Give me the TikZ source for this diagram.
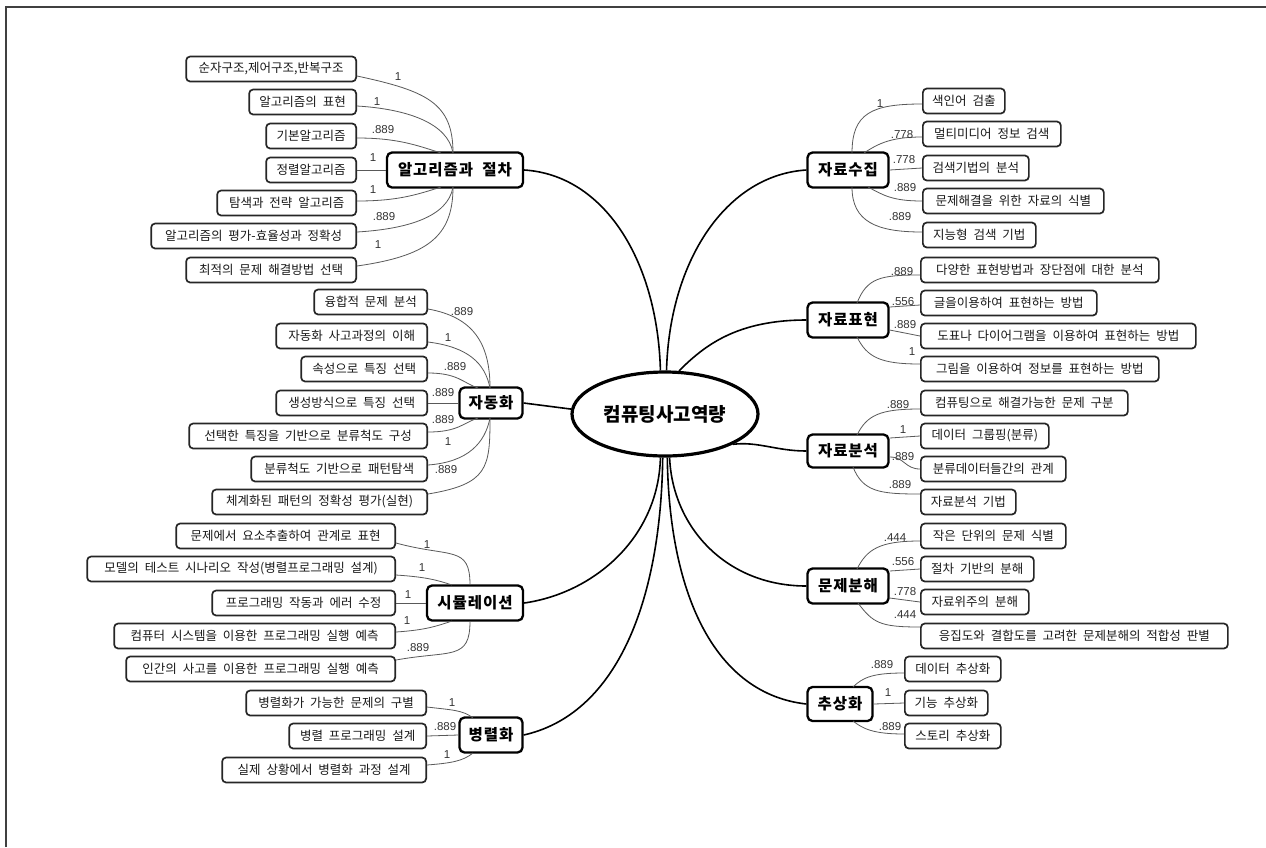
\documentclass[tikz,border=0pt]{standalone}
\usepackage{fontspec}
\setmainfont{Noto Sans CJK KR}[WordSpace=2.1]
\newfontfamily\numfont{Liberation Sans}
\usetikzlibrary{shapes.geometric,calc}
\newcommand{\leaffont}{\fontsize{12.5}{14}\selectfont}
\newcommand{\midfont}{\fontsize{15.5}{17}\selectfont\bfseries\addfontfeatures{LetterSpace=6}}
\newcommand{\cenfont}{\fontsize{19}{21}\selectfont\bfseries}
\newcommand{\lblfont}{\numfont\fontsize{11.5}{13}\selectfont}
\tikzset{
  leaf/.style={draw=black!85, line width=1.7pt, rounded corners=4pt, fill=white,
    minimum height=25pt, inner sep=0pt, font=\leaffont, text=black!90},
  lleaf/.style={leaf, anchor=east},
  rleaf/.style={leaf, anchor=west},
  mid/.style={draw=black, line width=2.3pt, rounded corners=5pt, fill=white,
    minimum height=35pt, inner sep=0pt, font=\midfont},
  lbl/.style={font=\lblfont, text=black!80, inner sep=0pt},
  twig/.style={draw=black!65, line width=0.8pt},
  trunk/.style={draw=black, line width=1.6pt},
}
\begin{document}
\begin{tikzpicture}[x=1pt,y=-1pt]
\useasboundingbox (0,0) rectangle (1266,847);
\fill[white] (0,0) rectangle (1266,847);
\draw[line width=1.3pt, black!75] (6,847) -- (6,7) -- (1266,7);

% centre
\node[ellipse, draw, line width=3.2pt, fill=white, minimum width=186pt, minimum height=84pt, inner sep=0pt, font=\cenfont] (C) at (665,414) {컴퓨팅사고역량};

% mid nodes
\node[mid, minimum width=136pt] (A) at (455,170) {알고리즘과 절차};
\node[mid, minimum width=63pt, minimum height=31pt] (H) at (491,403) {자동화};
\node[mid, minimum width=96pt] (S) at (475,603) {시뮬레이션};
\node[mid, minimum width=63pt] (P) at (491,735) {병렬화};
\node[mid, minimum width=81pt] (R1) at (848,170) {자료수집};
\node[mid, minimum width=81pt] (R2) at (848,320) {자료표현};
\node[mid, minimum width=81pt, minimum height=33pt] (R3) at (848,451) {자료분석};
\node[mid, minimum width=81pt] (R4) at (848,586) {문제분해};
\node[mid, minimum width=65pt, minimum height=34pt] (R5) at (840,704) {추상화};

% leaves A
\node[lleaf, minimum width=170pt] (A1) at (357,69) {순자구조,제어구조,반복구조};
\node[lleaf, minimum width=107pt] (A2) at (357,102) {알고리즘의 표현};
\node[lleaf, minimum width=90pt] (A3) at (357,136) {기본알고리즘};
\node[lleaf, minimum width=90pt] (A4) at (357,170) {정렬알고리즘};
\node[lleaf, minimum width=139pt] (A5) at (357,203) {탐색과 전략 알고리즘};
\node[lleaf, minimum width=205pt] (A6) at (357,236) {알고리즘의 평가-효율성과 정확성};
\node[lleaf, minimum width=170pt] (A7) at (357,270) {최적의 문제 해결방법 선택};

% leaves H
\node[lleaf, minimum width=113pt] (H1) at (428,302) {융합적 문제 분석};
\node[lleaf, minimum width=151pt] (H2) at (428,336) {자동화 사고과정의 이해};
\node[lleaf, minimum width=126pt] (H3) at (428,369) {속성으로 특징 선택};
\node[lleaf, minimum width=151pt] (H4) at (428,403) {생성방식으로 특징 선택};
\node[lleaf, minimum width=238pt] (H5) at (428,436) {선택한 특징을 기반으로 분류척도 구성};
\node[lleaf, minimum width=176pt] (H6) at (428,469) {분류척도 기반으로 패턴탐색};
\node[lleaf, minimum width=215pt] (H7) at (428,502) {체계화된 패턴의 정확성 평가(실현)};

% leaves S
\node[lleaf, minimum width=219pt] (S1) at (396,536) {문제에서 요소추출하여 관계로 표현};
\node[lleaf, minimum width=308pt] (S2) at (396,569) {모델의 테스트 시나리오 작성(병렬프로그래밍 설계)};
\node[lleaf, minimum width=183pt] (S3) at (396,603) {프로그래밍 작동과 에러 수정};
\node[lleaf, minimum width=281pt] (S4) at (396,636) {컴퓨터 시스템을 이용한 프로그래밍 실행 예측};
\node[lleaf, minimum width=269pt] (S5) at (396,669) {인간의 사고를 이용한 프로그래밍 실행 예측};

% leaves P
\node[lleaf, minimum width=180pt] (P1) at (427,703) {병렬화가 가능한 문제의 구별};
\node[lleaf, minimum width=137pt] (P2) at (427,736) {병렬 프로그래밍 설계};
\node[lleaf, minimum width=204pt] (P3) at (427,770) {실제 상황에서 병렬화 과정 설계};

% leaves R1
\node[rleaf, minimum width=82pt] (R1a) at (922,101) {색인어 검출};
\node[rleaf, minimum width=138pt] (R1b) at (922,134) {멀티미디어 정보 검색};
\node[rleaf, minimum width=106pt] (R1c) at (922,168) {검색기법의 분석};
\node[rleaf, minimum width=181pt] (R1d) at (922,201) {문제해결을 위한 자료의 식별};
\node[rleaf, minimum width=113pt] (R1e) at (922,235) {지능형 검색 기법};

% leaves R2
\node[rleaf, minimum width=238pt] (R2a) at (920,270) {다양한 표현방법과 장단점에 대한 분석};
\node[rleaf, minimum width=176pt] (R2b) at (920,303) {글을이용하여 표현하는 방법};
\node[rleaf, minimum width=275pt] (R2c) at (920,336) {도표나 다이어그램을 이용하여 표현하는 방법};
\node[rleaf, minimum width=238pt] (R2d) at (920,369) {그림을 이용하여 정보를 표현하는 방법};

% leaves R3
\node[rleaf, minimum width=207pt] (R3a) at (920,403) {컴퓨팅으로 해결가능한 문제 구분};
\node[rleaf, minimum width=128pt] (R3b) at (920,436) {데이터 그룹핑(분류)};
\node[rleaf, minimum width=145pt] (R3c) at (920,469) {분류데이터들간의 관계};
\node[rleaf, minimum width=95pt] (R3d) at (920,502) {자료분석 기법};

% leaves R4
\node[rleaf, minimum width=145pt] (R4a) at (920,536) {작은 단위의 문제 식별};
\node[rleaf, minimum width=113pt] (R4b) at (920,569) {절차 기반의 분해};
\node[rleaf, minimum width=108pt] (R4c) at (920,602) {자료위주의 분해};
\node[rleaf, minimum width=307pt] (R4d) at (920,636) {응집도와 결합도를 고려한 문제분해의 적합성 판별};

% leaves R5
\node[rleaf, minimum width=96pt] (R5a) at (904,669) {데이터 추상화};
\node[rleaf, minimum width=83pt] (R5b) at (904,703) {기능 추상화};
\node[rleaf, minimum width=96pt] (R5c) at (904,736) {스토리 추상화};

% convergence points
\coordinate (AT) at (453,153); \coordinate (AB) at (453,187);
\coordinate (AT2) at (441,153); \coordinate (AB2) at (441,187);
\coordinate (HT) at (490,388); \coordinate (HB) at (490,418);
\coordinate (HT2) at (478,388); \coordinate (HB2) at (478,418);
\coordinate (ST) at (470,585); \coordinate (SB) at (470,621);
\coordinate (ST2) at (452,585); \coordinate (SB2) at (452,621);
\coordinate (PT) at (473,718); \coordinate (PB) at (473,753);
\coordinate (R1T) at (852,153); \coordinate (R1B) at (852,187);
\coordinate (R1T2) at (864,153); \coordinate (R1B2) at (868,187);
\coordinate (R2T) at (857,303); \coordinate (R2B) at (857,337);
\coordinate (R3T) at (857,435); \coordinate (R3B) at (853,467);
\coordinate (R4T) at (857,569); \coordinate (R4B) at (858,603);
\coordinate (R5T) at (853,687); \coordinate (R5B) at (853,721);

% twigs A
\draw[twig] ([yshift=-7pt]A1.east) .. controls +(70,15) and +(0,-50) .. (AT);
\draw[twig] ([yshift=-4pt]A2.east) .. controls +(50,3) and +(-5,-30) .. (AT);
\draw[twig] ([yshift=-2pt]A3.east) .. controls +(40,0) and +(-25,-8) .. (AT2);
\draw[twig] (A4.east) -- (A.west);
\draw[twig] ([yshift=2pt]A5.east) .. controls +(40,0) and +(-25,8) .. (AB2);
\draw[twig] ([yshift=4pt]A6.east) .. controls +(50,-3) and +(-5,30) .. (AB);
\draw[twig] ([yshift=4pt]A7.east) .. controls +(70,-10) and +(0,50) .. (AB);
% twigs H
\draw[twig] ([yshift=-7pt]H1.east) .. controls +(45,8) and +(0,-45) .. (HT);
\draw[twig] ([yshift=-6pt]H2.east) .. controls +(40,5) and +(-5,-25) .. (HT);
\draw[twig] ([yshift=-4pt]H3.east) .. controls +(30,0) and +(-15,-5) .. (HT2);
\draw[twig] (H4.east) -- (H.west);
\draw[twig] ([yshift=4pt]H5.east) .. controls +(30,0) and +(-15,5) .. (HB2);
\draw[twig] ([yshift=4pt]H6.east) .. controls +(40,-3) and +(-5,25) .. (HB);
\draw[twig] ([yshift=8pt]H7.east) .. controls +(60,-10) and +(0,50) .. (HB);
% twigs S
\draw[twig] ([yshift=-7pt]S1.east) .. controls +(55,15) and +(0,-40) .. (ST);
\draw[twig] ([yshift=-6pt]S2.east) .. controls +(30,2) and +(-15,-5) .. (ST2);
\draw[twig] (S3.east) -- (S.west);
\draw[twig] ([yshift=4pt]S4.east) .. controls +(30,-2) and +(-15,5) .. (SB2);
\draw[twig] ([yshift=9pt]S5.east) .. controls +(55,-10) and +(0,40) .. (SB);
% twigs P
\draw[twig] ([yshift=-4pt]P1.east) .. controls +(25,3) and +(-10,-8) .. (PT);
\draw[twig] (P2.east) -- (P.west);
\draw[twig] ([yshift=5pt]P3.east) .. controls +(25,-2) and +(-10,8) .. (PB);
% twigs R1
\draw[twig] (R1T) .. controls +(0,-40) and +(-50,0) .. ([yshift=-3pt]R1a.west);
\draw[twig] (R1T2) .. controls +(15,-10) and +(-30,0) .. ([yshift=-3pt]R1b.west);
\draw[twig] (R1.east) -- (R1c.west);
\draw[twig] (R1B2) .. controls +(15,8) and +(-30,0) .. (R1d.west);
\draw[twig] (R1B) .. controls +(0,35) and +(-45,0) .. ([yshift=3pt]R1e.west);
% twigs R2
\draw[twig] (R2T) .. controls +(10,-25) and +(-40,0) .. ([yshift=-5pt]R2a.west);
\draw[twig] ([yshift=13pt]R2.east) -- ([yshift=-2pt]R2b.west);
\draw[twig] ([yshift=-10pt]R2.east) -- (R2c.west);
\draw[twig] (R2B) .. controls +(10,20) and +(-40,0) .. ([yshift=5pt]R2d.west);
% twigs R3
\draw[twig] (R3T) .. controls +(10,-20) and +(-40,0) .. ([yshift=-6pt]R3a.west);
\draw[twig] ([yshift=13pt]R3.east) -- (R3b.west);
\draw[twig] ([yshift=-6pt]R3.east) .. controls +(15,0) and +(-15,0) .. (R3c.west);
\draw[twig] (R3B) .. controls +(10,25) and +(-40,0) .. ([yshift=8pt]R3d.west);
% twigs R4
\draw[twig] (R4T) .. controls +(10,-20) and +(-40,0) .. ([yshift=-5pt]R4a.west);
\draw[twig] ([yshift=15pt]R4.east) -- (R4b.west);
\draw[twig] ([yshift=-12pt]R4.east) -- (R4c.west);
\draw[twig] (R4B) .. controls +(15,20) and +(-40,0) .. ([yshift=9pt]R4d.west);
% twigs R5
\draw[twig] (R5T) .. controls +(10,-10) and +(-30,0) .. ([yshift=-4pt]R5a.west);
\draw[twig] (R5.east) -- (R5b.west);
\draw[twig] (R5B) .. controls +(10,8) and +(-30,0) .. ([yshift=2pt]R5c.west);

% trunks
\draw[trunk] (A.east) .. controls +(80,5) and +(-3,-110) .. (C.96);
\draw[trunk] (R1.west) .. controls +(-80,5) and +(3,-110) .. (C.88);
\draw[trunk] (R2.west) .. controls +(-70,0) and +(25,-25) .. (C.72);
\draw[trunk] (H.east) -- (C.177);
\draw[trunk] (R3.west) .. controls +(-30,0) and +(25,-3) .. (C.-24);
\draw[trunk] (S.east) .. controls +(70,-10) and +(-2,80) .. (C.-96);
\draw[trunk] (P.east) .. controls +(90,-20) and +(-2,150) .. (C.-93);
\draw[trunk] (R4.west) .. controls +(-80,0) and +(3,70) .. (C.-84);
\draw[trunk] (R5.west) .. controls +(-90,-10) and +(2,140) .. (C.-87);

% labels A
\node[lbl] (la1) at (398,77) {1};
\node[lbl] (la2) at (377,102) {1};
\node[lbl] (la3) at (383,130) {.889};
\node[lbl] (la4) at (373,158) {1};
\node[lbl] (la5) at (373,190) {1};
\node[lbl] (la6) at (384,217) {.889};
\node[lbl] (la7) at (378,245) {1};
% labels H
\node[lbl] (lh1) at (462,312) {.889};
\node[lbl] (lh2) at (448,338) {1};
\node[lbl] (lh3) at (455,367) {.889};
\node[lbl] (lh4) at (443,393) {.889};
\node[lbl] (lh5) at (443,420) {.889};
\node[lbl] (lh6) at (448,442) {1};
\node[lbl] (lh7) at (446,470) {.889};
% labels S
\node[lbl] (ls1) at (427,545) {1};
\node[lbl] (ls2) at (422,568) {1};
\node[lbl] (ls3) at (408,595) {1};
\node[lbl] (ls4) at (407,621) {1};
\node[lbl] (ls5) at (418,648) {.889};
% labels P
\node[lbl] (lp1) at (452,703) {1};
\node[lbl] (lp2) at (445,727) {.889};
\node[lbl] (lp3) at (447,755) {1};
% labels R1
\node[lbl] (lr11) at (880,104) {1};
\node[lbl] (lr12) at (902,135) {.778};
\node[lbl] (lr13) at (904,160) {.778};
\node[lbl] (lr14) at (905,188) {.889};
\node[lbl] (lr15) at (900,217) {.889};
% labels R2
\node[lbl] (lr21) at (902,272) {.889};
\node[lbl] (lr22) at (903,302) {.556};
\node[lbl] (lr23) at (905,325) {.889};
\node[lbl] (lr24) at (912,352) {1};
% labels R3
\node[lbl] (lr31) at (898,405) {.889};
\node[lbl] (lr32) at (903,430) {1};
\node[lbl] (lr33) at (903,457) {.889};
\node[lbl] (lr34) at (900,485) {.889};
% labels R4
\node[lbl] (lr41) at (895,538) {.444};
\node[lbl] (lr42) at (903,562) {.556};
\node[lbl] (lr43) at (905,592) {.778};
\node[lbl] (lr44) at (905,615) {.444};
% labels R5
\node[lbl] (lr51) at (882,665) {.889};
\node[lbl] (lr52) at (888,693) {1};
\node[lbl] (lr53) at (890,727) {.889};
\end{tikzpicture}
\end{document}
